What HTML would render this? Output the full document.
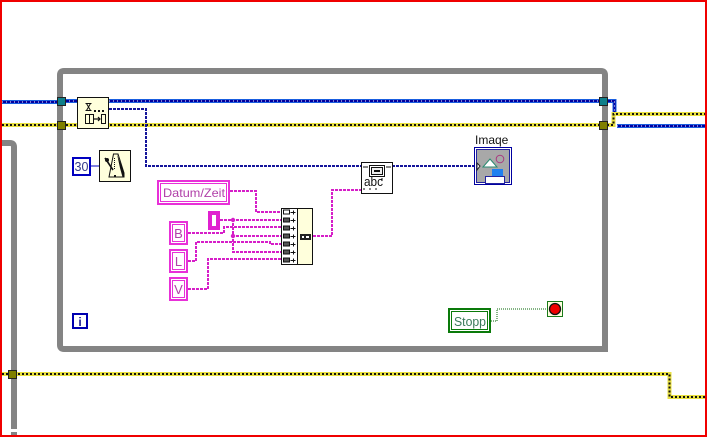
<!DOCTYPE html>
<html><head><meta charset="utf-8"><style>
html,body{margin:0;padding:0;background:#fff}
svg{display:block}
text{font-family:"Liberation Sans",sans-serif}
</style></head><body>
<svg width="707" height="437" viewBox="0 0 707 437" xmlns="http://www.w3.org/2000/svg" shape-rendering="crispEdges">
<rect width="707" height="437" fill="#fff"/>
<!-- frames -->
<path d="M2 143H10Q14 143 14 147V429" fill="none" stroke="#848484" stroke-width="6" shape-rendering="auto"/>
<rect x="11" y="432" width="6" height="3" fill="#848484"/>
<path d="M60 343V75Q60 71 64 71H601Q605 71 605 75V349H64Q60 349 60 345Z" fill="none" stroke="#848484" stroke-width="6" shape-rendering="auto"/>
<g fill="none">
<!-- blue thick wires -->
<path d="M2 102H58M65 101H603M607 101H614.500V112M617 126H705" stroke="#1a5fe0" stroke-width="4"/>
<path d="M2 102H58M65 101H603M607 101H614.500V112M617 126H705" stroke="#0000a0" stroke-width="2"/>
<path d="M2 102H58M65 101H603M607 101H614.500V112M617 126H705" stroke="#fff" stroke-width="1" stroke-dasharray="1 3"/>
<!-- yellow wires -->
<path d="M2 125H607M607 125H613.500V114H705M2 374H669.500V397H705" stroke="#e8e040" stroke-width="4"/>
<path d="M2 125H607M607 125H613.500V114H705M2 374H669.500V397H705" stroke="#111" stroke-width="2" stroke-dasharray="2 2"/>
<!-- thin blue -->
<path d="M109 109H146V166H474" stroke="#14149a" stroke-width="2" stroke-dasharray="3 1"/>
<path d="M91 166H99" stroke="#0000c0" stroke-width="1"/>
<!-- pink wires -->
<g stroke="#d61ec8" stroke-width="2" stroke-dasharray="3 1">
<path d="M230 191H256V212H281"/>
<path d="M220 220H281"/>
<path d="M233 219V252H281"/>
<path d="M232 236H281"/>
<path d="M188 233H224V227H281"/>
<path d="M188 261H196V242H270V244H281"/>
<path d="M188 289H208V259H281"/>
<path d="M313 236H332V190H361"/>
</g>
<!-- green dotted -->
<path d="M491 321H497V309H547" stroke="#0a6a0a" stroke-width="1" stroke-dasharray="1 1"/>
</g>
<circle cx="233" cy="220" r="2.200" fill="#d61ec8" shape-rendering="auto"/>
<circle cx="233" cy="236" r="2.200" fill="#d61ec8" shape-rendering="auto"/>
<!-- tunnels -->
<g stroke="#222" stroke-width="1">
<rect x="57.500" y="97.500" width="8" height="8" fill="#0f7f8a"/>
<rect x="57.500" y="121.500" width="8" height="8" fill="#808000"/>
<rect x="599.500" y="97.500" width="8" height="8" fill="#0f7f8a"/>
<rect x="599.500" y="121.500" width="8" height="8" fill="#808000"/>
<rect x="8.500" y="370.500" width="8" height="8" fill="#808000"/>
</g>
<!-- queue node -->
<rect x="77.500" y="97.500" width="31" height="31" fill="#ffffdc" stroke="#111"/>
<g fill="none" stroke="#111">
<path d="M85.500 103.500h6M85.500 110.500h6M86.500 103.500l4 7M90.500 103.500l-4 7" shape-rendering="auto"/>
<rect x="85.500" y="114.500" width="8" height="9"/><path d="M89.500 114.500v9"/>
<rect x="101.500" y="114.500" width="4" height="9"/>
<path d="M94 119h6M98 117l2 2-2 2" stroke-width="1.200" shape-rendering="auto"/>
</g>
<path d="M94 110h2v2h-2zM98 110h2v2h-2zM102 110h2v2h-2z" fill="#111"/>
<!-- metronome -->
<rect x="99.500" y="150.500" width="31" height="31" fill="#ffffdc" stroke="#111"/>
<path d="M109 177L113.500 154H118L124 173V177Z" fill="#ffffdc" stroke="#111" shape-rendering="auto"/>
<path d="M117 154L124 172V177H122.500L120 168Z" fill="#111" shape-rendering="auto"/>
<path d="M105 158L113 170" stroke="#111" stroke-width="1.600" shape-rendering="auto"/>
<circle cx="107" cy="160" r="2" fill="#111" shape-rendering="auto"/>
<path d="M114.500 158v11" stroke="#111" stroke-dasharray="1 1"/>
<rect x="114" y="175" width="2" height="2" fill="#111"/>
<!-- const 30 -->
<rect x="73" y="158" width="17" height="17" fill="#fff" stroke="#0000c0" stroke-width="2"/>
<text x="81.500" y="171" font-size="12.500" fill="#333a8a" text-anchor="middle">30</text>
<!-- Datum/Zeit -->
<rect x="158" y="181" width="71" height="23" fill="#fff" stroke="#e830d8" stroke-width="2"/>
<rect x="160.500" y="183.500" width="66" height="18" fill="#fff" stroke="#e830d8"/>
<text x="163" y="197" font-size="12" fill="#b040a8" textLength="62" lengthAdjust="spacingAndGlyphs">Datum/Zeit</text>
<!-- small const -->
<rect x="210" y="213" width="8" height="15" fill="#fff" stroke="#e020d0" stroke-width="4"/>
<!-- B L V -->
<g fill="#fff" stroke="#e830d8">
<rect x="170" y="222" width="17" height="22" stroke-width="2"/><rect x="172.500" y="224.500" width="12" height="17"/>
<rect x="170" y="250" width="17" height="22" stroke-width="2"/><rect x="172.500" y="252.500" width="12" height="17"/>
<rect x="170" y="278" width="17" height="22" stroke-width="2"/><rect x="172.500" y="280.500" width="12" height="17"/>
</g>
<g font-size="13" fill="#b040a8" text-anchor="middle">
<text x="178.500" y="238">B</text><text x="178.500" y="266">L</text><text x="178.500" y="294">V</text>
</g>
<!-- bundle node -->
<rect x="281.500" y="208.500" width="31" height="56" fill="#ffffdc" stroke="#111"/>
<rect x="281.500" y="208.500" width="16" height="56" fill="#fff" stroke="#111"/>
<rect x="283.500" y="210" width="6" height="4" fill="#fff" stroke="#111"/>
<g fill="#555" stroke="#111">
<rect x="283.500" y="218" width="6" height="4"/><rect x="283.500" y="226" width="6" height="4"/>
<rect x="283.500" y="234" width="6" height="4"/><rect x="283.500" y="242" width="6" height="4"/>
<rect x="283.500" y="250" width="6" height="4"/><rect x="283.500" y="258" width="6" height="4"/>
</g>
<path d="M290.500 212.500h5M290.500 220.500h5M290.500 228.500h5M290.500 236.500h5M290.500 244.500h5M290.500 252.500h5M290.500 260.500h5" stroke="#111"/>
<path d="M293 210.500v4h1v-4zM293 218.500v4h1v-4zM293 226.500v4h1v-4zM293 234.500v4h1v-4zM293 242.500v4h1v-4zM293 250.500v4h1v-4zM293 258.500v4h1v-4z" fill="#111"/>
<rect x="300" y="234" width="11" height="6" fill="#222"/>
<rect x="302" y="236" width="2" height="2" fill="#fff"/><rect x="306" y="236" width="3" height="2" fill="#fff"/>
<!-- abc node -->
<rect x="361.500" y="162.500" width="31" height="31" fill="#fff" stroke="#111"/>
<rect x="369.500" y="165.500" width="15" height="11" fill="#fff" stroke="#111"/>
<rect x="371.500" y="167.500" width="11" height="7" fill="#eee" stroke="#111"/>
<path d="M374 171h6" stroke="#111" stroke-width="2"/>
<path d="M363 167h5M386 167h5" stroke="#111"/>
<text x="364" y="186" font-size="13" fill="#111" textLength="19" lengthAdjust="spacingAndGlyphs">abc</text>
<path d="M363 189h2M369 189h2M375 189h2M381 179h2" stroke="#111"/>
<!-- Image -->
<text x="475" y="144" font-size="12" fill="#111">Imaqe</text>
<rect x="474.500" y="147.500" width="37" height="37" fill="#fff" stroke="#0000a0"/>
<rect x="476.500" y="149.500" width="33" height="33" fill="#a8a8a8" stroke="#2222a0" stroke-width="1"/>
<path d="M483 167L490 159L497 167Z" fill="#fff" stroke="#2a8a70" shape-rendering="auto"/>
<circle cx="500" cy="159" r="3.800" fill="none" stroke="#a83a80" shape-rendering="auto"/>
<rect x="492" y="169" width="11" height="8" fill="#1e80f0"/>
<rect x="485.500" y="176.500" width="19" height="7" fill="#fff" stroke="#2222a0"/>
<path d="M477 163L480 166L477 170Z" fill="#fff" stroke="#222" shape-rendering="auto"/>
<!-- Stopp -->
<rect x="449" y="309" width="41" height="23" fill="#fff" stroke="#0a7a0a" stroke-width="2"/>
<rect x="451.500" y="311.500" width="36" height="18" fill="#fff" stroke="#0a7a0a"/>
<text x="454" y="326" font-size="13" fill="#3a7a5a" textLength="32" lengthAdjust="spacingAndGlyphs">Stopp</text>
<!-- stop terminal -->
<rect x="547.500" y="301.500" width="15" height="15" fill="#ffffe0" stroke="#1a7a1a"/>
<circle cx="555" cy="309" r="5.500" fill="#f00000" stroke="#111" stroke-width="1.300" shape-rendering="auto"/>
<!-- i terminal -->
<rect x="73" y="314" width="14" height="14" fill="#fff" stroke="#0000b0" stroke-width="2"/>
<text x="80" y="326" font-size="12" font-weight="bold" fill="#1a1a90" text-anchor="middle">i</text>
<!-- red border -->
<path d="M0 0H707V437H0Z" fill="none" stroke="#f00000" stroke-width="4"/>
</svg>
</body></html>
